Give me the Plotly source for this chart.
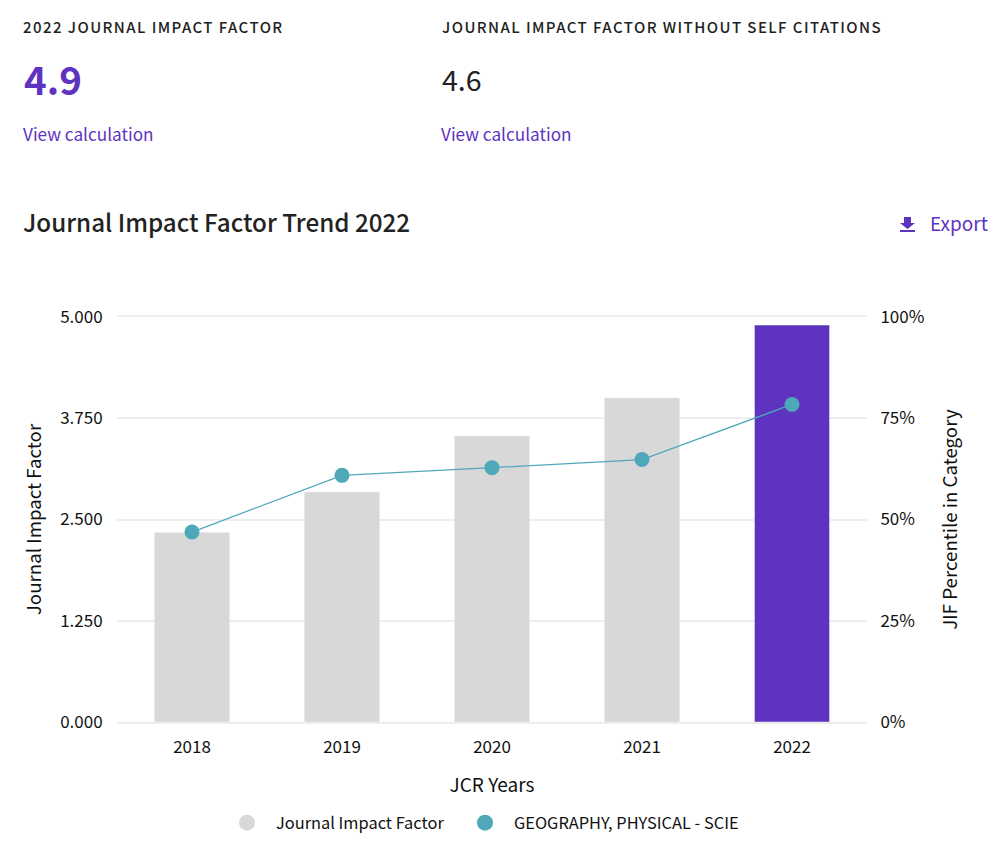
import plotly.graph_objects as go

years = ['2018', '2019', '2020', '2021', '2022']
impact_factor = [2.34, 2.84, 3.53, 4.0, 4.9]
percentile = [46.9, 60.9, 62.8, 64.8, 78.4]
bar_colors = ['#d8d8d8', '#d8d8d8', '#d8d8d8', '#d8d8d8', '#5e33bf']
left_ticks = [0, 1.25, 2.5, 3.75, 5]
right_ticks = [0, 25, 50, 75, 100]
right_labels = ['0%', '25%', '50%', '75%', '100%']

FONT = 'Noto Sans CJK SC'
PURPLE = '#5e33bf'
TEAL = '#4fa8ba'
DARK = '#222222'
GRID = '#eeeeee'

# the page body adds 8px around the figure, the plot area sits at x 117-867, y 317-722 on the page
OFFSET = 8
W, H = 984, 831


def px_x(x):
    return (x - 117) / 750


def px_y(y):
    return (722 - y) / 405


def label(text, x, y, size, color=DARK, weight=400):
    return dict(text=text, x=px_x(x - 2.5), y=px_y(y), xref='paper', yref='paper', showarrow=False,
                xanchor='left', yanchor='middle',
                font=dict(family=FONT, size=size, color=color, weight=weight))


def spaced(text):
    return f'<span style="letter-spacing:1.43px">{text}</span>'


fig = go.Figure()
fig.add_trace(go.Bar(x=years, y=impact_factor, marker_color=bar_colors, width=0.5, showlegend=False))
fig.add_trace(go.Scatter(x=years, y=percentile, yaxis='y2', mode='lines+markers', showlegend=False,
                         line=dict(color=TEAL, width=1.3), marker=dict(color=TEAL, size=15)))
# legend only entries, so both get a round swatch
fig.add_trace(go.Scatter(x=[None], y=[None], mode='markers', name='Journal Impact Factor',
                         marker=dict(color='#d8d8d8', size=16)))
fig.add_trace(go.Scatter(x=[None], y=[None], mode='markers', name='GEOGRAPHY, PHYSICAL - SCIE',
                         marker=dict(color=TEAL, size=16), legend='legend2'))


def legend_at(x):
    return dict(orientation='h', x=(x - OFFSET) / W, xanchor='left', y=1 - (823 - OFFSET) / H, yanchor='middle',
                xref='container', yref='container', font=dict(size=16.4), itemsizing='trace', itemwidth=48)


fig.update_layout(
    width=W, height=H,
    margin=dict(l=109, r=125, t=309, b=117),
    plot_bgcolor='white', paper_bgcolor='white',
    font=dict(family=FONT, size=17, color='#111111'),
    # mirror draws the 5.000 line, plotly leaves out the grid line at the end of the range
    xaxis=dict(type='category', showgrid=False, ticks='outside', ticklen=9, tickcolor='white',
               linecolor=GRID, linewidth=2, mirror=True, tickfont=dict(size=17),
               title=dict(text='JCR Years', font=dict(size=19), standoff=21)),
    yaxis=dict(range=[0, 5], tickvals=left_ticks, tickformat='.3f', gridcolor=GRID, gridwidth=2, zeroline=False,
               ticks='outside', ticklen=10, tickcolor='white', tickfont=dict(size=17),
               title=dict(text='Journal Impact Factor', font=dict(size=18.7), standoff=13)),
    yaxis2=dict(range=[0, 100], tickvals=right_ticks, ticktext=right_labels, overlaying='y', side='right',
                showgrid=False, zeroline=False, ticks='outside', ticklen=9, tickcolor='white',
                tickfont=dict(size=17),
                title=dict(text='JIF Percentile in Category', font=dict(size=18.7), standoff=20)),
    legend=legend_at(218),
    legend2=legend_at(456),
    annotations=[
        label(spaced('2022 JOURNAL IMPACT FACTOR'), 23, 27, 15, weight=500),
        label(spaced('JOURNAL IMPACT FACTOR WITHOUT SELF CITATIONS'), 442, 27, 15, weight=500),
        label('4.9', 24, 78, 38.5, PURPLE, 700),
        label('4.6', 442, 78, 28.5),
        label('View calculation', 23.5, 134, 17.2, PURPLE),
        label('View calculation', 441.5, 134, 17.2, PURPLE),
        label('Journal Impact Factor Trend 2022', 23, 221, 24.2, weight=500),
        label('Export', 930, 222, 19, PURPLE),
    ],
    shapes=[
        dict(type='path', xref='paper', yref='paper', fillcolor=PURPLE, line_width=0,
             path=f'M {px_x(904)} {px_y(217)} H {px_x(911)} V {px_y(223)} H {px_x(915)} '
                  f'L {px_x(907.5)} {px_y(229)} L {px_x(900)} {px_y(223)} H {px_x(904)} Z'),
        dict(type='rect', xref='paper', yref='paper', fillcolor=PURPLE, line_width=0,
             x0=px_x(900), x1=px_x(915), y0=px_y(232), y1=px_y(230)),
    ],
)

fig.write_html("out.html")
